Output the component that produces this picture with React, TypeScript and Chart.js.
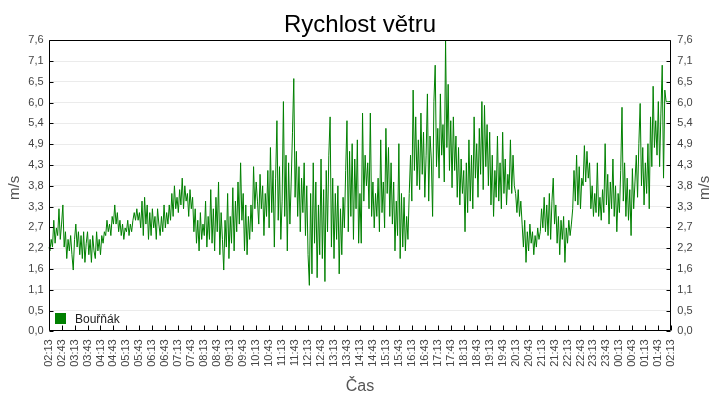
import { useEffect, useRef } from "react"
import { Chart, registerables } from "chart.js"

Chart.register(...registerables)

const FONT = "'Liberation Sans', Arial, sans-serif"
const SAMPLE_MINUTES = 3

// wind speed in m/s, one reading every 3 minutes, split in 3-hour blocks
const speed0213 = [
  2.2, 2.1, 2.4, 2.2, 2.9, 2.3, 2.7, 2.5, 3.2, 2.4, 2.8, 3.3, 2.2, 2.6, 1.9, 2.4, 2.1, 2.5, 2.0, 1.6,
  2.4, 2.8, 2.2, 2.6, 2.0, 2.5, 1.9, 2.6, 1.8, 2.3, 2.6, 2.0, 2.4, 1.8, 2.5, 2.1, 1.9, 2.6, 2.1, 2.4,
  2.0, 2.5, 2.3, 2.6, 2.5, 2.9, 2.6, 2.8, 2.5, 3.0, 2.8, 3.3, 2.8, 3.1, 2.6, 2.9, 2.5, 2.8, 2.4, 2.7,
]
const speed0513 = [
  2.6, 2.9, 2.5, 2.8, 2.6, 2.9, 3.1, 2.9, 3.2, 2.9, 3.1, 2.7, 3.4, 2.5, 3.5, 2.8, 3.3, 2.4, 3.1, 2.5,
  3.2, 2.7, 3.0, 2.4, 3.2, 2.8, 2.5, 3.0, 2.6, 3.3, 2.7, 3.1, 2.8, 3.3, 2.9, 3.6, 3.0, 3.8, 3.2, 3.5,
  3.1, 3.7, 3.3, 4.0, 3.2, 3.8, 3.4, 3.6, 3.0, 3.7, 3.2, 3.5, 2.6, 3.2, 2.3, 2.9, 2.1, 3.1, 2.4, 2.8,
]
const speed0813 = [
  2.5, 3.4, 2.2, 3.0, 2.4, 3.7, 2.3, 3.2, 2.1, 3.5, 2.6, 3.9, 2.0, 3.1, 2.4, 1.6, 2.9, 2.2, 3.6, 1.9,
  3.0, 2.3, 3.75, 2.1, 3.4, 2.6, 3.9, 2.8, 4.4, 2.9, 3.6, 2.1, 3.3, 2.0, 3.0, 2.4, 3.3, 2.6, 4.3, 3.2,
  3.9, 3.4, 2.8, 4.1, 3.2, 3.8, 2.5, 3.6, 3.0, 4.2, 2.7, 4.8, 3.1, 4.2, 2.2, 4.0, 5.5, 2.9, 4.3, 2.4,
]
const speed1113 = [
  3.4, 6.0, 3.0, 4.6, 2.1, 4.4, 2.8, 3.9, 5.2, 6.6, 3.5, 4.7, 3.0, 4.3, 2.6, 4.0, 3.1, 4.4, 2.5, 3.8,
  2.0, 1.2, 3.6, 1.5, 4.4, 2.3, 3.9, 1.4, 3.3, 2.0, 4.5, 1.9, 3.7, 1.3, 4.2, 2.6, 4.6, 5.6, 2.2, 4.0,
  1.9, 3.6, 2.4, 3.8, 1.5, 3.2, 2.0, 3.5, 2.7, 4.2, 5.5, 2.6, 4.7, 3.0, 4.9, 2.4, 4.5, 3.2, 5.0, 2.3,
]
const speed1413 = [
  3.6, 2.3, 5.7, 3.4, 4.6, 3.8, 4.4, 3.2, 5.7, 3.0, 3.9, 2.7, 3.6, 3.0, 4.0, 2.6, 5.0, 3.1, 3.9, 2.7,
  5.3, 3.6, 4.8, 3.0, 4.4, 2.8, 3.9, 2.1, 3.4, 2.5, 4.9, 1.9, 3.6, 2.2, 3.5, 2.1, 3.0, 2.4, 3.6, 4.6,
  3.4, 6.3, 4.2, 5.6, 3.8, 5.0, 3.7, 5.7, 4.1, 5.2, 3.5, 4.6, 6.2, 3.4, 5.1, 4.5, 3.0, 6.0, 6.95, 4.3,
]
const speed1713 = [
  5.3, 4.0, 6.2, 4.6, 5.4, 3.9, 7.6, 4.8, 6.45, 4.2, 5.5, 3.75, 5.6, 4.2, 5.1, 3.5, 4.8, 3.3, 4.5, 3.6,
  4.2, 2.6, 4.4, 3.1, 5.0, 3.4, 4.6, 3.2, 5.6, 4.0, 4.9, 3.5, 5.3, 4.1, 6.0, 3.7, 5.9, 4.3, 5.4, 3.8,
  5.2, 3.3, 4.6, 3.0, 4.2, 3.5, 5.1, 3.4, 4.4, 3.2, 5.2, 3.6, 4.5, 3.3, 4.1, 3.7, 5.0, 3.6, 4.6, 3.8,
]
const speed2013 = [
  3.6, 3.1, 3.7, 3.0, 3.4, 2.8, 2.2, 2.9, 1.8, 2.6, 2.1, 2.8, 2.3, 2.6, 2.0, 2.5, 2.2, 2.7, 2.4, 2.6,
  3.2, 2.7, 3.5, 2.6, 3.3, 2.5, 3.6, 2.4, 3.4, 4.0, 2.8, 3.3, 2.3, 3.0, 2.0, 2.9, 2.4, 3.0, 1.8, 2.7,
  2.3, 2.9, 2.5, 2.8, 3.2, 4.2, 3.4, 4.6, 3.3, 4.3, 3.2, 4.0, 3.8, 4.85, 3.9, 4.7, 4.0, 4.4, 3.2, 3.8,
]
const speed2313 = [
  3.0, 3.6, 3.1, 4.4, 3.0, 3.5, 2.9, 3.7, 3.1, 4.9, 3.3, 4.1, 2.8, 3.9, 3.2, 4.5, 3.0, 3.8, 2.6, 3.6,
  3.1, 4.2, 5.85, 3.4, 4.4, 3.0, 4.0, 2.9, 3.7, 2.5, 4.25, 3.2, 3.9, 4.6, 3.5, 4.9, 5.95, 3.8, 4.8, 3.3,
  4.4, 3.6, 4.9, 3.2, 5.6, 4.3, 6.4, 4.8, 5.5, 4.6, 6.0, 4.3, 5.7, 6.95, 4.0, 6.3, 6.0, 6.0, 6.0, 6.0,
  6.0,
]

const windSpeed = [
  ...speed0213, ...speed0513, ...speed0813, ...speed1113,
  ...speed1413, ...speed1713, ...speed2013, ...speed2313,
]
const sampleMinutes = windSpeed.map((_, i) => i * SAMPLE_MINUTES)

const xTickLabels = [
  "02:13", "02:43", "03:13", "03:43", "04:13", "04:43", "05:13", "05:43", "06:13", "06:43",
  "07:13", "07:43", "08:13", "08:43", "09:13", "09:43", "10:13", "10:43", "11:13", "11:43",
  "12:13", "12:43", "13:13", "13:43", "14:13", "14:43", "15:13", "15:43", "16:13", "16:43",
  "17:13", "17:43", "18:13", "18:43", "19:13", "19:43", "20:13", "20:43", "21:13", "21:43",
  "22:13", "22:43", "23:13", "23:43", "00:13", "00:43", "01:13", "01:43", "02:13",
]
const X_TICK_STEP = 30

const yTickLabels = [
  "0,0", "0,5", "1,1", "1,6", "2,2", "2,7", "3,3", "3,8", "4,3", "4,9", "5,4", "6,0", "6,5", "7,1", "7,6",
]
const Y_MAX = 7.6
const yTickValues = yTickLabels.map((_, i) => (i * Y_MAX) / (yTickLabels.length - 1))

// frame, inward ticks, legend inside the plot and the two y titles
const decorations = {
  id: "decorations",
  afterDraw(chart: any) {
    const { ctx, chartArea: a } = chart
    const yScale = chart.scales.y
    const xScale = chart.scales.x
    ctx.save()
    ctx.strokeStyle = "#000"
    ctx.lineWidth = 1
    ctx.beginPath()
    const l = Math.round(a.left) + 0.5
    const r = Math.round(a.right) - 0.5
    const t = Math.round(a.top) + 0.5
    const b = Math.round(a.bottom) - 0.5
    ctx.rect(l, t, r - l, b - t)
    for (const v of yTickValues) {
      const y = Math.round(yScale.getPixelForValue(v)) + 0.5
      ctx.moveTo(l, y)
      ctx.lineTo(l + 4, y)
      ctx.moveTo(r, y)
      ctx.lineTo(r - 4, y)
    }
    xTickLabels.forEach((_, i) => {
      const x = Math.round(xScale.getPixelForValue(i * X_TICK_STEP)) + 0.5
      ctx.moveTo(x, b)
      ctx.lineTo(x, b - 5)
    })
    ctx.stroke()

    // legend
    const ds = chart.data.datasets[0]
    ctx.fillStyle = ds.borderColor
    ctx.fillRect(55, 313, 11, 11)
    ctx.fillStyle = "#222"
    ctx.font = `12px ${FONT}`
    ctx.textBaseline = "alphabetic"
    ctx.textAlign = "left"
    ctx.fillText(ds.label, 75, 323)

    // y axis titles
    ctx.fillStyle = "#555"
    ctx.font = `15px ${FONT}`
    ctx.textAlign = "center"
    ctx.textBaseline = "middle"
    for (const x of [15, 705]) {
      ctx.save()
      ctx.translate(x, (a.top + a.bottom) / 2 + 2)
      ctx.rotate(-Math.PI / 2)
      ctx.fillText("m/s", 0, 0)
      ctx.restore()
    }
    ctx.restore()
  },
}

function WindChart() {
  const chartRef = useRef<HTMLCanvasElement>(null)
  const chartInstance = useRef<Chart | null>(null)

  useEffect(() => {
    if (!chartRef.current) return
    const ctx = chartRef.current.getContext("2d")
    if (!ctx) return

    if (chartInstance.current) {
      chartInstance.current.destroy()
    }

    const yTicks = {
      autoSkip: false,
      padding: 5,
      color: "#444",
      font: { family: FONT, size: 11 },
      callback: (_v: any, i: number) => yTickLabels[i],
    }

    chartInstance.current = new Chart(ctx, {
      type: "line",
      data: {
        labels: sampleMinutes,
        datasets: [
          {
            label: "Bouřňák",
            data: windSpeed,
            borderColor: "#008000",
            backgroundColor: "#008000",
            borderWidth: 1,
            pointRadius: 0,
            tension: 0,
            fill: false,
            yAxisID: "y",
          },
        ],
      },
      options: {
        animation: false,
        responsive: false,
        devicePixelRatio: 1,
        layout: { padding: 0 },
        plugins: {
          legend: { display: false },
          tooltip: { enabled: false },
          title: {
            display: true,
            text: "Rychlost větru",
            color: "#000",
            font: { family: FONT, size: 24, weight: "normal" },
            padding: { top: 11, bottom: 0.5 },
          },
        },
        scales: {
          x: {
            type: "linear",
            min: 0,
            max: (xTickLabels.length - 1) * X_TICK_STEP,
            afterBuildTicks: (scale: any) => {
              scale.ticks = xTickLabels.map((_, i) => ({ value: i * X_TICK_STEP }))
            },
            afterFit: (scale: any) => {
              scale.height = 68.7
            },
            grid: { display: false, drawTicks: false },
            border: { display: false },
            ticks: {
              autoSkip: false,
              minRotation: 90,
              maxRotation: 90,
              padding: 8,
              color: "#444",
              font: { family: FONT, size: 11 },
              callback: (_v: any, i: number) => xTickLabels[i],
            },
            title: {
              display: true,
              text: "Čas",
              color: "#555",
              font: { family: FONT, size: 16 },
              padding: { top: 0, bottom: 4 },
            },
          },
          y: {
            type: "linear",
            position: "left",
            min: 0,
            max: Y_MAX,
            afterBuildTicks: (scale: any) => {
              scale.ticks = yTickValues.map((value) => ({ value }))
            },
            afterFit: (scale: any) => {
              scale.width = 48.6
            },
            grid: {
              drawTicks: false,
              color: (c: any) =>
                c.index === 0 || c.index === yTickValues.length - 1 ? "rgba(0,0,0,0)" : "#ebebeb",
            },
            border: { display: false },
            ticks: yTicks,
          },
          y2: {
            type: "linear",
            position: "right",
            min: 0,
            max: Y_MAX,
            afterBuildTicks: (scale: any) => {
              scale.ticks = yTickValues.map((value) => ({ value }))
            },
            afterFit: (scale: any) => {
              scale.width = 48.7
            },
            grid: { display: false, drawTicks: false },
            border: { display: false },
            ticks: { ...yTicks, padding: 6 },
          },
        },
      },
      plugins: [decorations],
    } as any)

    return () => {
      if (chartInstance.current) {
        chartInstance.current.destroy()
        chartInstance.current = null
      }
    }
  }, [])

  return <canvas ref={chartRef} width={720} height={400} style={{ width: 720, height: 400, display: "block" }} />
}

export default function App() {
  return (
    <div style={{ position: "fixed", left: 0, top: 0, width: 720, height: 400, background: "#fff" }}>
      <WindChart />
    </div>
  )
}
